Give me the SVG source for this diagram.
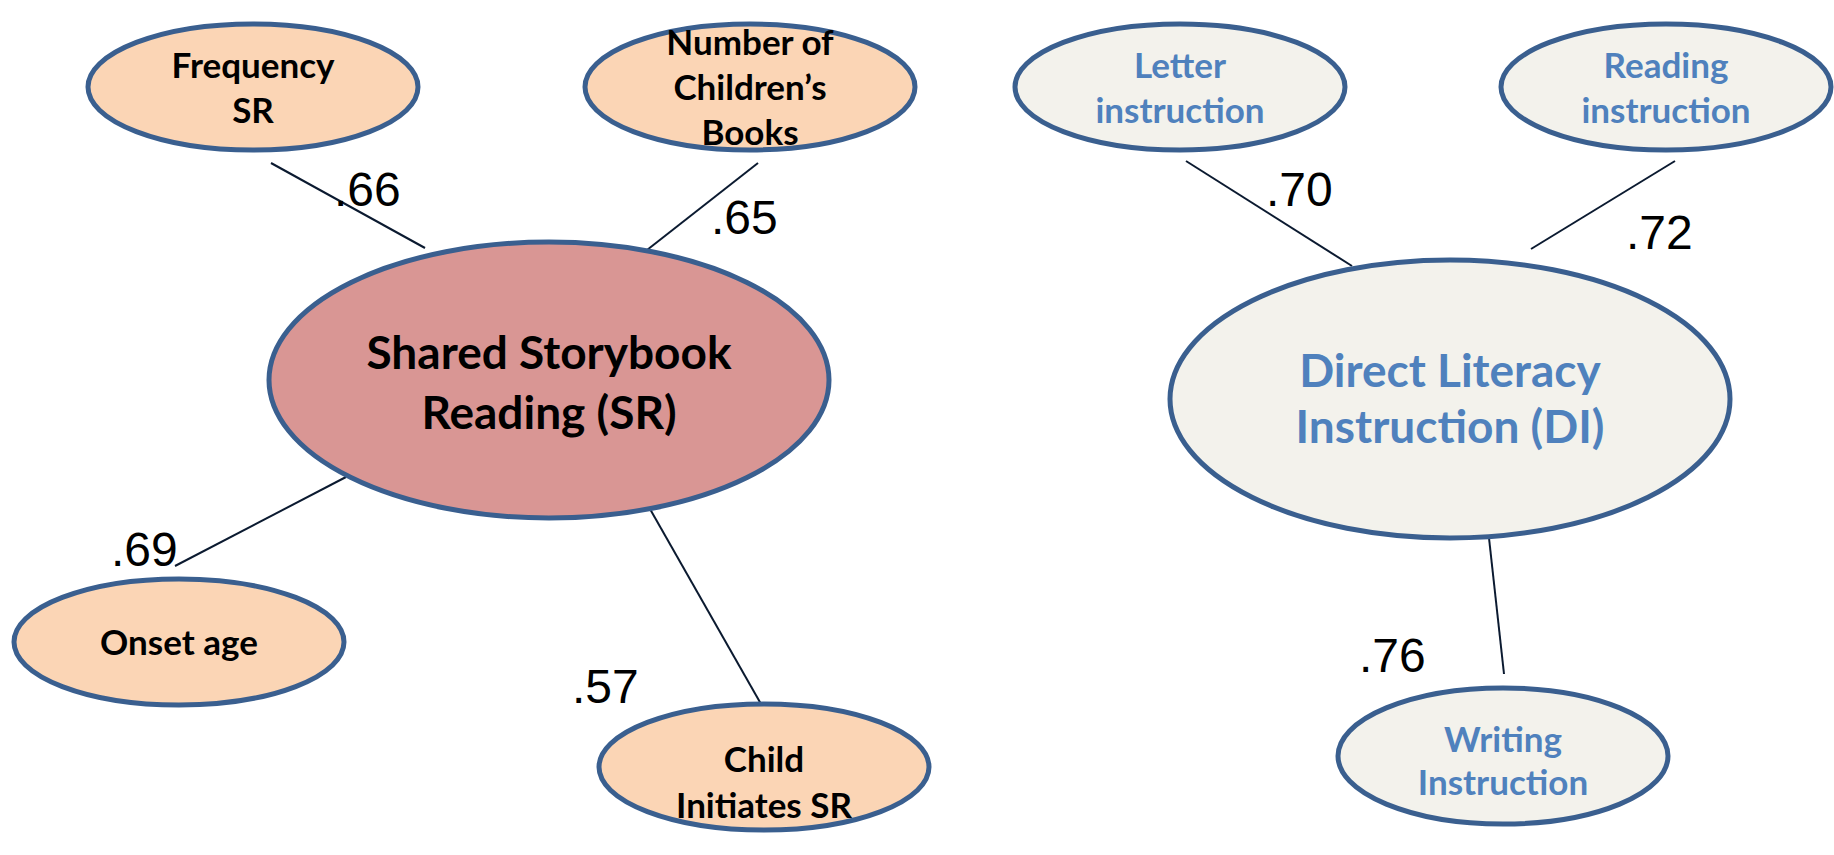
<svg xmlns="http://www.w3.org/2000/svg" width="1834" height="855" viewBox="0 0 1834 855">
<style>
.n{stroke:#3A5F8F;stroke-width:5}
.peach{fill:#FBD5B5}
.rose{fill:#D99694}
.cream{fill:#F3F2EC}
.t{font-family:Lato,"Open Sans",sans-serif;font-weight:bold;text-anchor:middle}
.s{font-size:35px}
.b{font-size:46px}
.k{fill:#000}
.bl{fill:#4F81BD}
.c{stroke:#0B1A30;stroke-width:2;fill:none}
.l{font-family:"Liberation Sans",Arial,sans-serif;font-size:48px;fill:#000}
</style>
<rect width="1834" height="855" fill="#fff"/>
<g id="connectors">
<line class="c" x1="271" y1="163" x2="425" y2="248"/>
<line class="c" x1="758" y1="163" x2="647" y2="250"/>
<line class="c" x1="346" y1="477" x2="175" y2="566"/>
<line class="c" x1="650" y1="509" x2="761" y2="704"/>
<line class="c" x1="1186" y1="161" x2="1352" y2="266"/>
<line class="c" x1="1675" y1="161" x2="1531" y2="249"/>
<line class="c" x1="1489" y1="538" x2="1504" y2="674"/>
</g>
<g id="labels">
<text class="l" x="334" y="206">.66</text>
<text class="l" x="711" y="234">.65</text>
<text class="l" x="111" y="566">.69</text>
<text class="l" x="572" y="703">.57</text>
<text class="l" x="1266" y="206">.70</text>
<text class="l" x="1626" y="249">.72</text>
<text class="l" x="1359" y="672">.76</text>
</g>
<g id="frequency">
<ellipse class="n peach" cx="253" cy="87" rx="165" ry="63"/>
<text class="t s k" x="253" y="78">Frequency</text>
<text class="t s k" x="253" y="123">SR</text>
</g>
<g id="books">
<ellipse class="n peach" cx="750" cy="87" rx="165" ry="63"/>
<text class="t s k" x="750" y="55">Number of</text>
<text class="t s k" x="750" y="100">Children’s</text>
<text class="t s k" x="750" y="145">Books</text>
</g>
<g id="sr">
<ellipse class="n rose" cx="549" cy="380" rx="280" ry="138"/>
<text class="t b k" x="549" y="369">Shared Storybook</text>
<text class="t b k" x="549" y="429">Reading (SR)</text>
</g>
<g id="onset">
<ellipse class="n peach" cx="179" cy="642" rx="165" ry="63"/>
<text class="t s k" x="179" y="655">Onset age</text>
</g>
<g id="child">
<ellipse class="n peach" cx="764" cy="767" rx="165" ry="63"/>
<text class="t s k" x="764" y="772">Child</text>
<text class="t s k" x="764" y="818">Initiates SR</text>
</g>
<g id="letter">
<ellipse class="n cream" cx="1180" cy="87" rx="165" ry="63"/>
<text class="t s bl" x="1180" y="78">Letter</text>
<text class="t s bl" x="1180" y="123">instruction</text>
</g>
<g id="reading">
<ellipse class="n cream" cx="1666" cy="87" rx="165" ry="63"/>
<text class="t s bl" x="1666" y="78">Reading</text>
<text class="t s bl" x="1666" y="123">instruction</text>
</g>
<g id="di">
<ellipse class="n cream" cx="1450" cy="399" rx="280" ry="139"/>
<text class="t b bl" x="1450" y="387">Direct Literacy</text>
<text class="t b bl" x="1450" y="443">Instruction (DI)</text>
</g>
<g id="writing">
<ellipse class="n cream" cx="1503" cy="756" rx="165" ry="68"/>
<text class="t s bl" x="1503" y="752">Writing</text>
<text class="t s bl" x="1503" y="795">Instruction</text>
</g>
</svg>
